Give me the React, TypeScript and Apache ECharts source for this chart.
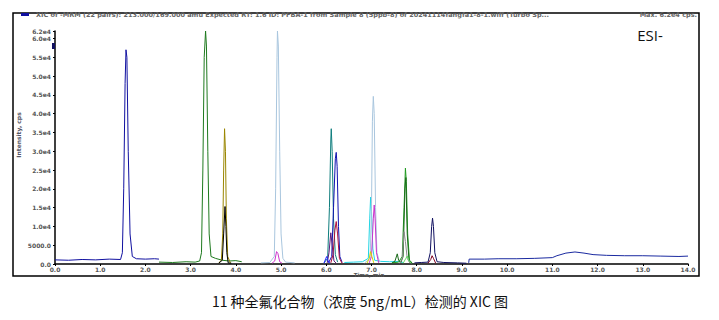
import React, { useEffect, useRef } from "react";
import * as echarts from "echarts";

// ---- Data (time in min, intensity in cps) ----
const xTicks = [0, 1, 2, 3, 4, 5, 6, 7, 8, 9, 10, 11, 12, 13, 14];
const yTicks = [0, 5000, 10000, 15000, 20000, 25000, 30000, 35000, 40000, 45000, 50000, 55000, 60000, 62000];

const pfbaBlue = [[0, 1100], [0.3, 1000], [0.6, 1200], [0.9, 1100], [1.2, 1300], [1.45, 1200], [1.49, 3000], [1.52, 20000], [1.55, 48000], [1.57, 57000], [1.59, 55000], [1.62, 30000], [1.66, 8000], [1.71, 2000], [1.8, 1400], [2.0, 1300], [2.2, 1400], [2.3, 1300]];
const greenA = [[2.3, 500], [2.6, 400], [2.9, 600], [3.1, 500], [3.2, 800], [3.24, 3000], [3.27, 25000], [3.3, 55000], [3.33, 62000], [3.35, 58000], [3.38, 30000], [3.41, 8000], [3.45, 2000], [3.55, 1500], [3.7, 1000], [3.85, 800], [4.0, 900], [4.13, 600]];
const olive = [[3.62, 300], [3.68, 1000], [3.71, 8000], [3.73, 25000], [3.75, 36000], [3.77, 30000], [3.79, 12000], [3.82, 2000], [3.88, 300]];
const blackPk = [[3.62, 200], [3.7, 1000], [3.73, 8000], [3.76, 15300], [3.78, 10000], [3.8, 3000], [3.83, 300], [3.9, 200]];
const lightBlueA = [[4.55, 300], [4.75, 400], [4.85, 2000], [4.88, 20000], [4.91, 55000], [4.92, 62000], [4.94, 58000], [4.97, 30000], [5.0, 8000], [5.04, 1500], [5.1, 500], [5.3, 300]];
const magentaA = [[4.8, 200], [4.86, 800], [4.9, 3300], [4.93, 2800], [4.97, 600], [5.02, 200]];
const tealPk = [[5.95, 300], [6.03, 1500], [6.07, 15000], [6.1, 33000], [6.11, 36000], [6.13, 30000], [6.16, 12000], [6.2, 2500], [6.25, 500]];
const bluePk = [[6.05, 300], [6.12, 2000], [6.16, 15000], [6.2, 28000], [6.22, 29700], [6.24, 26000], [6.27, 10000], [6.3, 2000], [6.35, 400]];
const crimsonPk = [[6.1, 300], [6.15, 2500], [6.19, 9000], [6.22, 11300], [6.25, 8000], [6.29, 1500], [6.35, 200]];
const purplePk = [[6.02, 300], [6.06, 3000], [6.1, 8300], [6.13, 5000], [6.17, 800], [6.22, 200]];
const smallBlue = [[5.95, 200], [5.99, 1500], [6.01, 2000], [6.04, 800], [6.08, 200]];
const cyanPk = [[6.4, 400], [6.6, 500], [6.8, 600], [6.93, 1500], [6.96, 12000], [6.98, 17800], [7.0, 14000], [7.03, 4000], [7.07, 1000], [7.2, 700], [7.4, 600], [7.6, 700], [7.7, 400]];
const lightBlueB = [[6.85, 300], [6.97, 1500], [7.0, 15000], [7.02, 38000], [7.04, 44600], [7.06, 40000], [7.09, 15000], [7.12, 3000], [7.18, 500]];
const magentaB = [[6.95, 300], [7.0, 2000], [7.04, 12000], [7.06, 15700], [7.08, 12000], [7.11, 3000], [7.16, 300]];
const yellowPk = [[6.9, 200], [6.95, 1500], [6.98, 3300], [7.01, 2000], [7.05, 300]];
const greenB = [[7.45, 300], [7.6, 500], [7.68, 2000], [7.72, 15000], [7.75, 25500], [7.77, 22000], [7.8, 8000], [7.84, 1000], [7.9, 300]];
const greenC = [[7.45, 200], [7.52, 800], [7.57, 2700], [7.6, 1000], [7.65, 400], [7.7, 2000], [7.74, 20000], [7.76, 23000], [7.79, 8000], [7.83, 800], [7.9, 200]];
const greyPk = [[7.62, 200], [7.68, 1500], [7.72, 8600], [7.75, 6000], [7.79, 1500], [7.85, 200]];
const lightGreen = [[7.7, 200], [7.76, 1500], [7.79, 2100], [7.83, 700], [7.88, 200]];
const navyPk = [[7.95, 300], [8.1, 400], [8.25, 500], [8.3, 3000], [8.33, 10000], [8.35, 12200], [8.37, 10000], [8.4, 3000], [8.45, 600], [8.6, 400], [8.9, 300], [9.1, 200]];
const darkRedPk = [[8.25, 200], [8.31, 1200], [8.34, 2200], [8.37, 1500], [8.42, 200]];
const blueTail = [[9.15, 300], [9.16, 1300], [9.5, 1300], [9.8, 1400], [10.2, 1400], [10.6, 1500], [11.0, 1700], [11.1, 2200], [11.3, 2900], [11.5, 3200], [11.7, 2900], [11.9, 2500], [12.2, 2300], [12.6, 2200], [13.0, 2200], [13.4, 2100], [13.8, 2000], [14.0, 2100]];

const traces: [number[][], string][] = [
  [pfbaBlue, "#1010a0"],
  [greenA, "#1f7a1f"],
  [lightBlueA, "#a9c6de"],
  [magentaA, "#cc33cc"],
  [olive, "#9a8600"],
  [blackPk, "#000000"],
  [tealPk, "#0e7d7d"],
  [bluePk, "#1212b0"],
  [crimsonPk, "#b0103a"],
  [purplePk, "#5a1a7a"],
  [smallBlue, "#2020ff"],
  [cyanPk, "#22d4e4"],
  [lightBlueB, "#a9c6de"],
  [magentaB, "#cc33cc"],
  [yellowPk, "#d4d400"],
  [greenB, "#1f9a1f"],
  [greenC, "#1a6a1a"],
  [greyPk, "#8c8c8c"],
  [lightGreen, "#66dd66"],
  [navyPk, "#101060"],
  [darkRedPk, "#800020"],
  [blueTail, "#1a2aa0"],
];

const titleText = "XIC of -MRM (22 pairs): 213.000/169.000 amu Expected RT: 1.6 ID: PFBA-1 from Sample 8 (5ppb-8) of 20241114fangfa1-8-1.wiff (Turbo Sp...";
const maxText = "Max. 6.2e4 cps.";
const caption = "11 种全氟化合物（浓度 5ng/mL）检测的 XIC 图";

function fmtY(v: number) {
  if (v === 0) return "0.0";
  if (v < 10000) return v.toFixed(1);
  return (v / 10000).toFixed(1) + "e4";
}

export default function App() {
  const ref = useRef<HTMLDivElement>(null);
  useEffect(() => {
    if (!ref.current) return;
    const chart = echarts.init(ref.current, undefined, { renderer: "svg" });
    const tinyFont = { fontSize: 6, color: "#555", fontFamily: "DejaVu Sans", fontWeight: "bold" as const };
    chart.setOption({
      animation: false,
      backgroundColor: "#ffffff",
      grid: { left: 55, right: 31, top: 31, bottom: 56, containLabel: false },
      xAxis: {
        type: "value",
        min: xTicks[0],
        max: xTicks[xTicks.length - 1],
        interval: 1,
        axisLine: { lineStyle: { color: "#000", width: 1.5 } },
        axisTick: { length: 2, lineStyle: { color: "#000" } },
        axisLabel: { ...tinyFont, margin: 2, formatter: (v: number) => v.toFixed(1) },
        splitLine: { show: false },
      },
      yAxis: {
        type: "value",
        min: yTicks[0],
        max: yTicks[yTicks.length - 1],
        interval: 5000,
        axisLine: { show: true, lineStyle: { color: "#000", width: 1.5 } },
        axisTick: { show: true, length: 2, lineStyle: { color: "#000" } },
        axisLabel: { ...tinyFont, margin: 4, showMaxLabel: true, formatter: fmtY },
        splitLine: { show: false },
      },
      series: traces.map(([d, c]) => ({
        type: "line",
        data: d,
        showSymbol: false,
        symbol: "none",
        lineStyle: { width: 1, color: c },
        itemStyle: { color: c },
      })),
      graphic: [
        { type: "rect", shape: { x: 13, y: 13, width: 686, height: 263 }, style: { fill: "none", stroke: "#000", lineWidth: 1.5 }, z: 100 },
        { type: "rect", shape: { x: 21, y: 13, width: 8, height: 3 }, style: { fill: "#1010a0" }, z: 101 },
        { type: "text", x: 36, y: 15, style: { text: titleText, fontSize: 6.5, fontWeight: "bold", fill: "#666", fontFamily: "DejaVu Sans", verticalAlign: "middle" }, z: 101 },
        { type: "text", x: 697, y: 15, style: { text: maxText, fontSize: 6.5, fontWeight: "bold", fill: "#666", fontFamily: "DejaVu Sans", align: "right", verticalAlign: "middle" }, z: 101 },
        { type: "text", x: 650, y: 35, style: { text: "ESI-", fontSize: 15, fill: "#111", fontFamily: "Open Sans", align: "center", verticalAlign: "middle" }, z: 101 },
        { type: "polygon", shape: { points: [[52, 43], [55, 43], [55, 49], [52, 49]] }, style: { fill: "#101060" }, z: 101 },
        { type: "text", x: 18, y: 135, rotation: Math.PI / 2, style: { text: "Intensity, cps", fontSize: 6, fontWeight: "bold", fill: "#556", fontFamily: "DejaVu Sans", align: "center", verticalAlign: "middle" }, z: 101 },
        { type: "text", x: 369, y: 275, style: { text: "Time, min", fontSize: 5.5, fontWeight: "bold", fill: "#555", fontFamily: "DejaVu Sans", align: "center", verticalAlign: "middle" }, z: 101 },
        { type: "text", x: 360, y: 301, style: { text: caption, fontSize: 14, fill: "#111", fontFamily: "Noto Sans CJK SC", align: "center", verticalAlign: "middle" }, z: 101 },
      ],
    });
    return () => chart.dispose();
  }, []);
  return (
    <div
      ref={ref}
      style={{ position: "fixed", left: 0, top: 0, width: 719, height: 320, background: "#fff" }}
    />
  );
}
